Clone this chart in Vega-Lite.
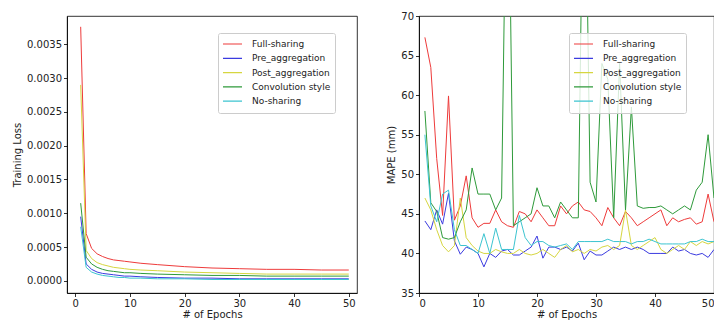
{
  "$schema": "https://vega.github.io/schema/vega-lite/v6.json",
  "padding": {"left": 12, "top": 10, "right": 0, "bottom": 0},
  "background": "white",
  "bounds": "flush",
  "spacing": 62,
  "datasets": {
    "loss": [
      {"e":1,"m":"Full-sharing","v":0.00376},{"e":2,"m":"Full-sharing","v":0.0007},{"e":3,"m":"Full-sharing","v":0.00048},{"e":4,"m":"Full-sharing","v":0.0004},{"e":5,"m":"Full-sharing","v":0.00036},{"e":6,"m":"Full-sharing","v":0.00033},{"e":7,"m":"Full-sharing","v":0.00031},{"e":8,"m":"Full-sharing","v":0.0003},{"e":9,"m":"Full-sharing","v":0.00029},{"e":10,"m":"Full-sharing","v":0.00028},{"e":12,"m":"Full-sharing","v":0.00026},{"e":15,"m":"Full-sharing","v":0.00024},{"e":20,"m":"Full-sharing","v":0.00021},{"e":25,"m":"Full-sharing","v":0.00019},{"e":30,"m":"Full-sharing","v":0.00018},{"e":35,"m":"Full-sharing","v":0.00017},{"e":40,"m":"Full-sharing","v":0.00017},{"e":45,"m":"Full-sharing","v":0.00016},{"e":50,"m":"Full-sharing","v":0.00016},
      {"e":1,"m":"Pre_aggregation","v":0.00095},{"e":2,"m":"Pre_aggregation","v":0.00025},{"e":3,"m":"Pre_aggregation","v":0.00017},{"e":4,"m":"Pre_aggregation","v":0.00013},{"e":5,"m":"Pre_aggregation","v":0.00011},{"e":6,"m":"Pre_aggregation","v":0.0001},{"e":7,"m":"Pre_aggregation","v":0.00009},{"e":8,"m":"Pre_aggregation","v":0.00008},{"e":9,"m":"Pre_aggregation","v":0.00007},{"e":10,"m":"Pre_aggregation","v":0.00007},{"e":12,"m":"Pre_aggregation","v":0.00006},{"e":15,"m":"Pre_aggregation","v":0.00005},{"e":20,"m":"Pre_aggregation","v":0.00004},{"e":25,"m":"Pre_aggregation","v":0.00004},{"e":30,"m":"Pre_aggregation","v":0.00003},{"e":35,"m":"Pre_aggregation","v":0.00003},{"e":40,"m":"Pre_aggregation","v":0.00003},{"e":45,"m":"Pre_aggregation","v":0.00003},{"e":50,"m":"Pre_aggregation","v":0.00003},
      {"e":1,"m":"Post_aggregation","v":0.0029},{"e":2,"m":"Post_aggregation","v":0.00045},{"e":3,"m":"Post_aggregation","v":0.00033},{"e":4,"m":"Post_aggregation","v":0.00027},{"e":5,"m":"Post_aggregation","v":0.00024},{"e":6,"m":"Post_aggregation","v":0.00022},{"e":7,"m":"Post_aggregation","v":0.0002},{"e":8,"m":"Post_aggregation","v":0.00019},{"e":9,"m":"Post_aggregation","v":0.00018},{"e":10,"m":"Post_aggregation","v":0.00017},{"e":12,"m":"Post_aggregation","v":0.00016},{"e":15,"m":"Post_aggregation","v":0.00015},{"e":20,"m":"Post_aggregation","v":0.00013},{"e":25,"m":"Post_aggregation","v":0.00012},{"e":30,"m":"Post_aggregation","v":0.00011},{"e":35,"m":"Post_aggregation","v":0.0001},{"e":40,"m":"Post_aggregation","v":0.0001},{"e":45,"m":"Post_aggregation","v":0.0001},{"e":50,"m":"Post_aggregation","v":0.0001},
      {"e":1,"m":"Convolution style","v":0.00115},{"e":2,"m":"Convolution style","v":0.00035},{"e":3,"m":"Convolution style","v":0.00025},{"e":4,"m":"Convolution style","v":0.0002},{"e":5,"m":"Convolution style","v":0.00017},{"e":6,"m":"Convolution style","v":0.00015},{"e":7,"m":"Convolution style","v":0.00014},{"e":8,"m":"Convolution style","v":0.00013},{"e":9,"m":"Convolution style","v":0.00012},{"e":10,"m":"Convolution style","v":0.00012},{"e":12,"m":"Convolution style","v":0.00011},{"e":15,"m":"Convolution style","v":0.0001},{"e":20,"m":"Convolution style","v":0.00009},{"e":25,"m":"Convolution style","v":0.00008},{"e":30,"m":"Convolution style","v":0.00008},{"e":35,"m":"Convolution style","v":0.00007},{"e":40,"m":"Convolution style","v":0.00007},{"e":45,"m":"Convolution style","v":0.00007},{"e":50,"m":"Convolution style","v":0.00007},
      {"e":1,"m":"No-sharing","v":0.0008},{"e":2,"m":"No-sharing","v":0.0002},{"e":3,"m":"No-sharing","v":0.00013},{"e":4,"m":"No-sharing","v":0.0001},{"e":5,"m":"No-sharing","v":0.00008},{"e":6,"m":"No-sharing","v":0.00007},{"e":7,"m":"No-sharing","v":0.00006},{"e":8,"m":"No-sharing","v":0.00005},{"e":9,"m":"No-sharing","v":0.00005},{"e":10,"m":"No-sharing","v":0.00004},{"e":12,"m":"No-sharing","v":0.00004},{"e":15,"m":"No-sharing","v":0.00003},{"e":20,"m":"No-sharing","v":0.00003},{"e":25,"m":"No-sharing","v":0.00002},{"e":30,"m":"No-sharing","v":0.00002},{"e":35,"m":"No-sharing","v":0.00002},{"e":40,"m":"No-sharing","v":0.00002},{"e":45,"m":"No-sharing","v":0.00002},{"e":50,"m":"No-sharing","v":0.00002}
    ],
    "mape": [
      {"e":1,"m":"Full-sharing","v":67.3},{"e":2,"m":"Full-sharing","v":63.5},{"e":3,"m":"Full-sharing","v":52},{"e":4,"m":"Full-sharing","v":44.8},{"e":5,"m":"Full-sharing","v":59.9},{"e":6,"m":"Full-sharing","v":44.2},{"e":7,"m":"Full-sharing","v":46},{"e":8,"m":"Full-sharing","v":49.8},{"e":9,"m":"Full-sharing","v":44.5},{"e":10,"m":"Full-sharing","v":43.3},
      {"e":11,"m":"Full-sharing","v":43.8},{"e":12,"m":"Full-sharing","v":43.8},{"e":13,"m":"Full-sharing","v":45.5},{"e":14,"m":"Full-sharing","v":44},{"e":15,"m":"Full-sharing","v":43.5},{"e":16,"m":"Full-sharing","v":43.3},{"e":17,"m":"Full-sharing","v":45.3},{"e":18,"m":"Full-sharing","v":45},{"e":19,"m":"Full-sharing","v":44},{"e":20,"m":"Full-sharing","v":45.5},
      {"e":21,"m":"Full-sharing","v":44.5},{"e":22,"m":"Full-sharing","v":43.5},{"e":23,"m":"Full-sharing","v":43.5},{"e":24,"m":"Full-sharing","v":46},{"e":25,"m":"Full-sharing","v":45},{"e":26,"m":"Full-sharing","v":46},{"e":27,"m":"Full-sharing","v":46.5},{"e":28,"m":"Full-sharing","v":45.5},{"e":29,"m":"Full-sharing","v":45.3},{"e":30,"m":"Full-sharing","v":44.5},
      {"e":31,"m":"Full-sharing","v":43.5},{"e":32,"m":"Full-sharing","v":45.8},{"e":33,"m":"Full-sharing","v":44.5},{"e":34,"m":"Full-sharing","v":43.5},{"e":35,"m":"Full-sharing","v":45.3},{"e":36,"m":"Full-sharing","v":44.5},{"e":37,"m":"Full-sharing","v":43.5},{"e":38,"m":"Full-sharing","v":44},{"e":39,"m":"Full-sharing","v":44.5},{"e":40,"m":"Full-sharing","v":45},
      {"e":41,"m":"Full-sharing","v":45.5},{"e":42,"m":"Full-sharing","v":43.5},{"e":43,"m":"Full-sharing","v":44.5},{"e":44,"m":"Full-sharing","v":44},{"e":45,"m":"Full-sharing","v":44.3},{"e":46,"m":"Full-sharing","v":44.5},{"e":47,"m":"Full-sharing","v":43.7},{"e":48,"m":"Full-sharing","v":44},{"e":49,"m":"Full-sharing","v":47.5},{"e":50,"m":"Full-sharing","v":44},
      {"e":1,"m":"Pre_aggregation","v":44.1},{"e":2,"m":"Pre_aggregation","v":43},{"e":3,"m":"Pre_aggregation","v":45.5},{"e":4,"m":"Pre_aggregation","v":43.7},{"e":5,"m":"Pre_aggregation","v":47.6},{"e":6,"m":"Pre_aggregation","v":41.6},{"e":7,"m":"Pre_aggregation","v":39.9},{"e":8,"m":"Pre_aggregation","v":40.8},{"e":9,"m":"Pre_aggregation","v":40.5},{"e":10,"m":"Pre_aggregation","v":40},
      {"e":11,"m":"Pre_aggregation","v":38.3},{"e":12,"m":"Pre_aggregation","v":40},{"e":13,"m":"Pre_aggregation","v":39.5},{"e":14,"m":"Pre_aggregation","v":40.3},{"e":15,"m":"Pre_aggregation","v":40.5},{"e":16,"m":"Pre_aggregation","v":39.8},{"e":17,"m":"Pre_aggregation","v":39.8},{"e":18,"m":"Pre_aggregation","v":40.3},{"e":19,"m":"Pre_aggregation","v":40.8},{"e":20,"m":"Pre_aggregation","v":42.2},
      {"e":21,"m":"Pre_aggregation","v":39.4},{"e":22,"m":"Pre_aggregation","v":40.8},{"e":23,"m":"Pre_aggregation","v":40.8},{"e":24,"m":"Pre_aggregation","v":40.5},{"e":25,"m":"Pre_aggregation","v":40.8},{"e":26,"m":"Pre_aggregation","v":40.3},{"e":27,"m":"Pre_aggregation","v":41.3},{"e":28,"m":"Pre_aggregation","v":39.2},{"e":29,"m":"Pre_aggregation","v":40.3},{"e":30,"m":"Pre_aggregation","v":39.8},
      {"e":31,"m":"Pre_aggregation","v":39.8},{"e":32,"m":"Pre_aggregation","v":40.3},{"e":33,"m":"Pre_aggregation","v":40.8},{"e":34,"m":"Pre_aggregation","v":40.5},{"e":35,"m":"Pre_aggregation","v":40.8},{"e":36,"m":"Pre_aggregation","v":40.5},{"e":37,"m":"Pre_aggregation","v":40.8},{"e":38,"m":"Pre_aggregation","v":40.5},{"e":39,"m":"Pre_aggregation","v":40},{"e":40,"m":"Pre_aggregation","v":40},
      {"e":41,"m":"Pre_aggregation","v":40},{"e":42,"m":"Pre_aggregation","v":40},{"e":43,"m":"Pre_aggregation","v":40.8},{"e":44,"m":"Pre_aggregation","v":40.3},{"e":45,"m":"Pre_aggregation","v":40.5},{"e":46,"m":"Pre_aggregation","v":40},{"e":47,"m":"Pre_aggregation","v":39.8},{"e":48,"m":"Pre_aggregation","v":40},{"e":49,"m":"Pre_aggregation","v":39.5},{"e":50,"m":"Pre_aggregation","v":40.5},
      {"e":1,"m":"Post_aggregation","v":47},{"e":2,"m":"Post_aggregation","v":45.5},{"e":3,"m":"Post_aggregation","v":43},{"e":4,"m":"Post_aggregation","v":41},{"e":5,"m":"Post_aggregation","v":40.2},{"e":6,"m":"Post_aggregation","v":41},{"e":7,"m":"Post_aggregation","v":47},{"e":8,"m":"Post_aggregation","v":42},{"e":9,"m":"Post_aggregation","v":41},{"e":10,"m":"Post_aggregation","v":40.3},
      {"e":11,"m":"Post_aggregation","v":40},{"e":12,"m":"Post_aggregation","v":40},{"e":13,"m":"Post_aggregation","v":40.5},{"e":14,"m":"Post_aggregation","v":40.2},{"e":15,"m":"Post_aggregation","v":40},{"e":16,"m":"Post_aggregation","v":40},{"e":17,"m":"Post_aggregation","v":40.5},{"e":18,"m":"Post_aggregation","v":40},{"e":19,"m":"Post_aggregation","v":39.8},{"e":20,"m":"Post_aggregation","v":40},
      {"e":21,"m":"Post_aggregation","v":40.5},{"e":22,"m":"Post_aggregation","v":40},{"e":23,"m":"Post_aggregation","v":39.5},{"e":24,"m":"Post_aggregation","v":40.5},{"e":25,"m":"Post_aggregation","v":41},{"e":26,"m":"Post_aggregation","v":40.2},{"e":27,"m":"Post_aggregation","v":40.5},{"e":28,"m":"Post_aggregation","v":40},{"e":29,"m":"Post_aggregation","v":40.5},{"e":30,"m":"Post_aggregation","v":40.3},
      {"e":31,"m":"Post_aggregation","v":40.8},{"e":32,"m":"Post_aggregation","v":41},{"e":33,"m":"Post_aggregation","v":40.5},{"e":34,"m":"Post_aggregation","v":41},{"e":35,"m":"Post_aggregation","v":45.5},{"e":36,"m":"Post_aggregation","v":41},{"e":37,"m":"Post_aggregation","v":40.5},{"e":38,"m":"Post_aggregation","v":41},{"e":39,"m":"Post_aggregation","v":41.5},{"e":40,"m":"Post_aggregation","v":42},
      {"e":41,"m":"Post_aggregation","v":40.5},{"e":42,"m":"Post_aggregation","v":40},{"e":43,"m":"Post_aggregation","v":40.5},{"e":44,"m":"Post_aggregation","v":41},{"e":45,"m":"Post_aggregation","v":40.5},{"e":46,"m":"Post_aggregation","v":41.5},{"e":47,"m":"Post_aggregation","v":41},{"e":48,"m":"Post_aggregation","v":41.5},{"e":49,"m":"Post_aggregation","v":41.2},{"e":50,"m":"Post_aggregation","v":41.5},
      {"e":1,"m":"Convolution style","v":58},{"e":2,"m":"Convolution style","v":46.4},{"e":3,"m":"Convolution style","v":45.3},{"e":4,"m":"Convolution style","v":42},{"e":5,"m":"Convolution style","v":41.8},{"e":6,"m":"Convolution style","v":42},{"e":7,"m":"Convolution style","v":44},{"e":8,"m":"Convolution style","v":45.5},{"e":9,"m":"Convolution style","v":50.8},{"e":10,"m":"Convolution style","v":47.5},
      {"e":11,"m":"Convolution style","v":47.5},{"e":12,"m":"Convolution style","v":47.5},{"e":13,"m":"Convolution style","v":45.5},{"e":14,"m":"Convolution style","v":47},{"e":15,"m":"Convolution style","v":100},{"e":16,"m":"Convolution style","v":43.5},{"e":17,"m":"Convolution style","v":44},{"e":18,"m":"Convolution style","v":44.5},{"e":19,"m":"Convolution style","v":45},{"e":20,"m":"Convolution style","v":48.3},
      {"e":21,"m":"Convolution style","v":46},{"e":22,"m":"Convolution style","v":46},{"e":23,"m":"Convolution style","v":44.5},{"e":24,"m":"Convolution style","v":46.5},{"e":25,"m":"Convolution style","v":45.5},{"e":26,"m":"Convolution style","v":44.5},{"e":27,"m":"Convolution style","v":44.5},{"e":28,"m":"Convolution style","v":100},{"e":29,"m":"Convolution style","v":49},{"e":30,"m":"Convolution style","v":46.5},
      {"e":31,"m":"Convolution style","v":64},{"e":32,"m":"Convolution style","v":62},{"e":33,"m":"Convolution style","v":44.5},{"e":34,"m":"Convolution style","v":64},{"e":35,"m":"Convolution style","v":45.5},{"e":36,"m":"Convolution style","v":58.5},{"e":37,"m":"Convolution style","v":46},{"e":38,"m":"Convolution style","v":45.7},{"e":39,"m":"Convolution style","v":45.8},{"e":40,"m":"Convolution style","v":45.8},
      {"e":41,"m":"Convolution style","v":46},{"e":42,"m":"Convolution style","v":45.5},{"e":43,"m":"Convolution style","v":45},{"e":44,"m":"Convolution style","v":45.5},{"e":45,"m":"Convolution style","v":46},{"e":46,"m":"Convolution style","v":45.5},{"e":47,"m":"Convolution style","v":48},{"e":48,"m":"Convolution style","v":49},{"e":49,"m":"Convolution style","v":55},{"e":50,"m":"Convolution style","v":47},
      {"e":1,"m":"No-sharing","v":55},{"e":2,"m":"No-sharing","v":46},{"e":3,"m":"No-sharing","v":44},{"e":4,"m":"No-sharing","v":47.5},{"e":5,"m":"No-sharing","v":48},{"e":6,"m":"No-sharing","v":43},{"e":7,"m":"No-sharing","v":41},{"e":8,"m":"No-sharing","v":41},{"e":9,"m":"No-sharing","v":40.5},{"e":10,"m":"No-sharing","v":40},
      {"e":11,"m":"No-sharing","v":42.5},{"e":12,"m":"No-sharing","v":40},{"e":13,"m":"No-sharing","v":43.2},{"e":14,"m":"No-sharing","v":40.5},{"e":15,"m":"No-sharing","v":40.5},{"e":16,"m":"No-sharing","v":40.5},{"e":17,"m":"No-sharing","v":44.8},{"e":18,"m":"No-sharing","v":42},{"e":19,"m":"No-sharing","v":41},{"e":20,"m":"No-sharing","v":41.5},
      {"e":21,"m":"No-sharing","v":41.5},{"e":22,"m":"No-sharing","v":41},{"e":23,"m":"No-sharing","v":40.8},{"e":24,"m":"No-sharing","v":41},{"e":25,"m":"No-sharing","v":41.2},{"e":26,"m":"No-sharing","v":40.5},{"e":27,"m":"No-sharing","v":41.5},{"e":28,"m":"No-sharing","v":41.5},{"e":29,"m":"No-sharing","v":41.5},{"e":30,"m":"No-sharing","v":41.5},
      {"e":31,"m":"No-sharing","v":41.5},{"e":32,"m":"No-sharing","v":41.8},{"e":33,"m":"No-sharing","v":41.5},{"e":34,"m":"No-sharing","v":41.5},{"e":35,"m":"No-sharing","v":41.5},{"e":36,"m":"No-sharing","v":41.2},{"e":37,"m":"No-sharing","v":41.5},{"e":38,"m":"No-sharing","v":41.5},{"e":39,"m":"No-sharing","v":41.8},{"e":40,"m":"No-sharing","v":41.5},
      {"e":41,"m":"No-sharing","v":41.2},{"e":42,"m":"No-sharing","v":41.2},{"e":43,"m":"No-sharing","v":41.2},{"e":44,"m":"No-sharing","v":41.2},{"e":45,"m":"No-sharing","v":41.2},{"e":46,"m":"No-sharing","v":41.5},{"e":47,"m":"No-sharing","v":41.5},{"e":48,"m":"No-sharing","v":41.8},{"e":49,"m":"No-sharing","v":41.5},{"e":50,"m":"No-sharing","v":41.5}
    ]
  },
  "hconcat": [
    {
      "width": 290,
      "height": 277,
      "data": {"name": "loss"},
      "mark": {"type": "line", "strokeWidth": 1, "clip": true},
      "encoding": {
        "x": {"field": "e", "type": "quantitative", "title": "# of Epochs",
              "scale": {"domain": [-1.5, 51.5], "nice": false, "zero": false},
              "axis": {"values": [0, 10, 20, 30, 40, 50], "format": "d", "titlePadding": 1}},
        "y": {"field": "v", "type": "quantitative", "title": "Training Loss",
              "scale": {"domain": [-0.00018, 0.00392], "nice": false},
              "axis": {"values": [0, 0.0005, 0.001, 0.0015, 0.002, 0.0025, 0.003, 0.0035], "format": ".4f"}},
        "color": {"field": "m", "type": "nominal",
                  "scale": {"domain": ["Full-sharing", "Pre_aggregation", "Post_aggregation", "Convolution style", "No-sharing"],
                            "range": ["#ee3b3b", "#3b3be0", "#d6d640", "#2e9a3a", "#3cc4d0"]},
                  "legend": {"orient": "none", "legendX": 151, "legendY": 17, "title": null}}
      }
    },
    {
      "width": 295,
      "height": 277,
      "data": {"name": "mape"},
      "mark": {"type": "line", "strokeWidth": 1, "clip": true},
      "encoding": {
        "x": {"field": "e", "type": "quantitative", "title": "# of Epochs",
              "scale": {"domain": [0, 50], "nice": false, "zero": false},
              "axis": {"values": [0, 10, 20, 30, 40, 50], "format": "d", "titlePadding": 1}},
        "y": {"field": "v", "type": "quantitative", "title": "MAPE (mm)",
              "scale": {"domain": [35, 70], "nice": false, "zero": false},
              "axis": {"values": [35, 40, 45, 50, 55, 60, 65, 70], "format": "d"}},
        "color": {"field": "m", "type": "nominal",
                  "scale": {"domain": ["Full-sharing", "Pre_aggregation", "Post_aggregation", "Convolution style", "No-sharing"],
                            "range": ["#ee3b3b", "#3b3be0", "#d6d640", "#2e9a3a", "#3cc4d0"]},
                  "legend": {"orient": "none", "legendX": 150, "legendY": 17, "title": null}}
      }
    }
  ],
  "resolve": {"legend": {"color": "independent"}},
  "config": {
    "view": {"stroke": "black", "strokeWidth": 0.8},
    "axis": {"grid": false, "domainColor": "black", "domainWidth": 0.8, "tickColor": "black", "tickWidth": 0.8, "tickSize": 3.5,
             "labelFont": "DejaVu Sans", "titleFont": "DejaVu Sans", "labelFontSize": 10, "titleFontSize": 10,
             "titleFontWeight": "normal", "labelColor": "#222", "titleColor": "#222", "labelPadding": 2, "titlePadding": 4},
    "legend": {"labelFont": "DejaVu Sans", "labelFontSize": 9, "labelColor": "#222", "symbolType": "stroke", "symbolSize": 361,
               "symbolStrokeWidth": 1.2, "fillColor": "rgba(255,255,255,0.8)", "strokeColor": "#cccccc", "cornerRadius": 2,
               "padding": 4, "rowPadding": 0.3, "clipHeight": 14, "labelOffset": 9}
  }
}
